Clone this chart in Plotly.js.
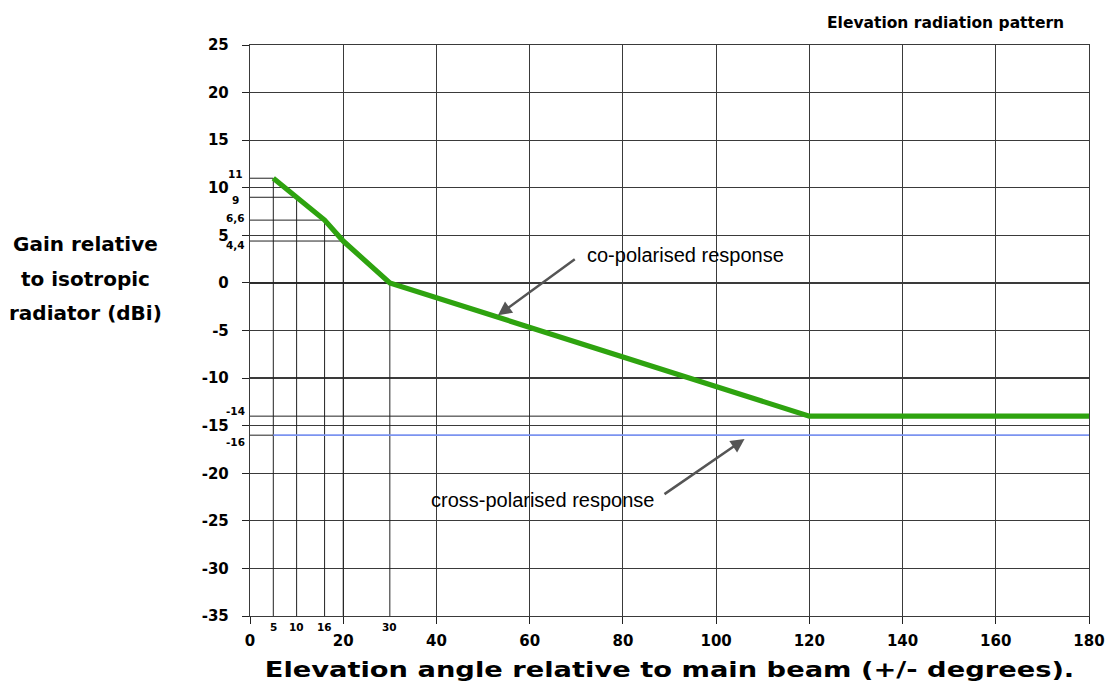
<!DOCTYPE html>
<html>
<head>
<meta charset="utf-8">
<script src="https://cdn.plot.ly/plotly-3.0.1.min.js"></script>
<style>
html,body{margin:0;padding:0;background:#fff;}
#chart{width:1105px;height:689px;}
#chart .xtitle{transform-box:fill-box;transform-origin:center;transform:scaleX(1.3);}
</style>
</head>
<body>
<div id="chart"></div>
<script>
// ---- data ----
const coAngles = [5, 10, 16, 20, 30, 120, 180];
const coGain = [11, 9, 6.6, 4.4, 0, -14, -14];
const crossAngles = [5, 180];
const crossGain = [-16, -16];
const xTickVals = [0, 20, 40, 60, 80, 100, 120, 140, 160, 180];
const yTickVals = [-35, -30, -25, -20, -15, -10, -5, 0, 5, 10, 15, 20, 25];
const levelValues = [11, 9, 6.6, 4.4, -14, -16];
const levelLabels = ['11', '9', '6,6', '4,4', '-14', '-16'];
const angleValues = [5, 10, 16, 30];
const angleLabels = ['5', '10', '16', '30'];
const titleText = 'Elevation radiation pattern';
const xTitle = 'Elevation angle relative to main beam (+/- degrees).';
const yTitleLines = ['Gain relative', 'to isotropic', 'radiator (dBi)'];
const coLabel = 'co-polarised response';
const crossLabel = 'cross-polarised response';

const X_MIN = 0, X_MAX = 180, Y_MIN = -35, Y_MAX = 25;
const BOLD = 'DejaVu Sans';
const REG = 'Liberation Sans, Arial, sans-serif';

// reference (construction) lines for the break points of the co-polar curve up to 30 deg
const refX = [], refY = [];
coAngles.forEach((a, i) => {
  if (a <= 30) {
    refX.push(X_MIN, a, null, a, a, null);
    refY.push(coGain[i], coGain[i], null, coGain[i], Y_MIN, null);
  }
});
// -14 level across, -16 level up to the start of the cross-polar line
refX.push(X_MIN, X_MAX, null, X_MIN, crossAngles[0], null);
refY.push(coGain[coGain.length - 1], coGain[coGain.length - 1], null, crossGain[0], crossGain[0], null);

const traces = [
  {x: refX, y: refY, mode: 'lines', line: {color: '#222', width: 1}, hoverinfo: 'skip', showlegend: false},
  {x: crossAngles, y: crossGain, mode: 'lines', line: {color: '#7B93F0', width: 1.8}, showlegend: false},
  {x: coAngles, y: coGain, mode: 'lines', line: {color: '#2EA30F', width: 5.2}, showlegend: false}
];

const annotations = [];
// small level labels at the left
const levelShiftY = {'11': 4, '9': -3, '6,6': 2, '4,4': -4, '-14': 5, '-16': -7};
levelValues.forEach((v, i) => {
  annotations.push({
    xref: 'paper', yref: 'y', x: 0, y: v, xanchor: 'center', yanchor: 'middle',
    xshift: -15, yshift: levelShiftY[levelLabels[i]],
    text: levelLabels[i], showarrow: false,
    font: {family: BOLD, size: 10.5, color: '#000', weight: 'bold'}
  });
});
// small angle labels at the bottom
angleValues.forEach((v, i) => {
  annotations.push({
    xref: 'x', yref: 'paper', x: v, y: 0, xanchor: 'center', yanchor: 'middle',
    yshift: -10.5, text: angleLabels[i], showarrow: false,
    font: {family: BOLD, size: 10.5, color: '#000', weight: 'bold'}
  });
});
// chart title
annotations.push({
  xref: 'paper', yref: 'paper', x: 0.829, y: 1, xanchor: 'center', yanchor: 'middle',
  yshift: 22, text: titleText, showarrow: false,
  font: {family: BOLD, size: 15.5, color: '#000', weight: 'bold'}
});
// y title lines
const yLinePos = [244, 279, 313];
yTitleLines.forEach((t, i) => {
  annotations.push({
    xref: 'paper', yref: 'paper', x: 0, y: 1, xanchor: 'center', yanchor: 'middle',
    xshift: -165, yshift: -(yLinePos[i] - 45),
    text: t, showarrow: false,
    font: {family: BOLD, size: 20, color: '#000', weight: 'bold'}
  });
});
// response labels with arrows
annotations.push({
  xref: 'x', yref: 'y', x: 71.9, y: 2.9, xanchor: 'left', yanchor: 'middle',
  text: coLabel, showarrow: false, font: {family: REG, size: 20, color: '#000'}
});
annotations.push({
  xref: 'x', yref: 'y', x: 53.2, y: -3.4, axref: 'x', ayref: 'y', ax: 70.0, ay: 2.6,
  text: '', showarrow: true, arrowhead: 2, arrowsize: 1.1, arrowwidth: 2.5, arrowcolor: '#555'
});
annotations.push({
  xref: 'x', yref: 'y', x: 38.5, y: -22.8, xanchor: 'left', yanchor: 'middle',
  text: crossLabel, showarrow: false, font: {family: REG, size: 20, color: '#000'}
});
annotations.push({
  xref: 'x', yref: 'y', x: 106.1, y: -16.4, axref: 'x', ayref: 'y', ax: 88.6, ay: -22.3,
  text: '', showarrow: true, arrowhead: 2, arrowsize: 1.1, arrowwidth: 2.5, arrowcolor: '#555'
});

const layout = {
  width: 1105, height: 689,
  margin: {l: 250, r: 16, t: 45, b: 73},
  paper_bgcolor: '#fff', plot_bgcolor: '#fff',
  showlegend: false,
  xaxis: {
    range: [X_MIN, X_MAX], tickvals: xTickVals, ticktext: xTickVals.map(String),
    showgrid: true, gridcolor: '#3a3a3a', gridwidth: 1.2, zeroline: false,
    showline: true, linecolor: '#3a3a3a', linewidth: 1.2, mirror: true,
    ticks: 'outside', ticklen: 7, tickcolor: '#222', tickwidth: 1, ticklabelstandoff: 4,
    ticklabeloverflow: 'allow',
    tickfont: {family: BOLD, size: 15, color: '#000', weight: 'bold'},
    title: {text: xTitle, font: {family: BOLD, size: 21, color: '#000', weight: 'bold'}, standoff: 13}
  },
  yaxis: {
    range: [Y_MIN, Y_MAX], tickvals: yTickVals, ticktext: yTickVals.map(String),
    showgrid: true, gridcolor: '#3a3a3a', gridwidth: 1.2, zeroline: false,
    showline: true, linecolor: '#3a3a3a', linewidth: 1.2, mirror: true,
    ticks: 'outside', ticklen: 7, tickcolor: '#222', tickwidth: 1, ticklabelstandoff: 10,
    tickfont: {family: BOLD, size: 15, color: '#000', weight: 'bold'}
  },
  annotations: annotations
};

Plotly.newPlot('chart', traces, layout, {displayModeBar: false, staticPlot: true});
</script>
</body>
</html>
